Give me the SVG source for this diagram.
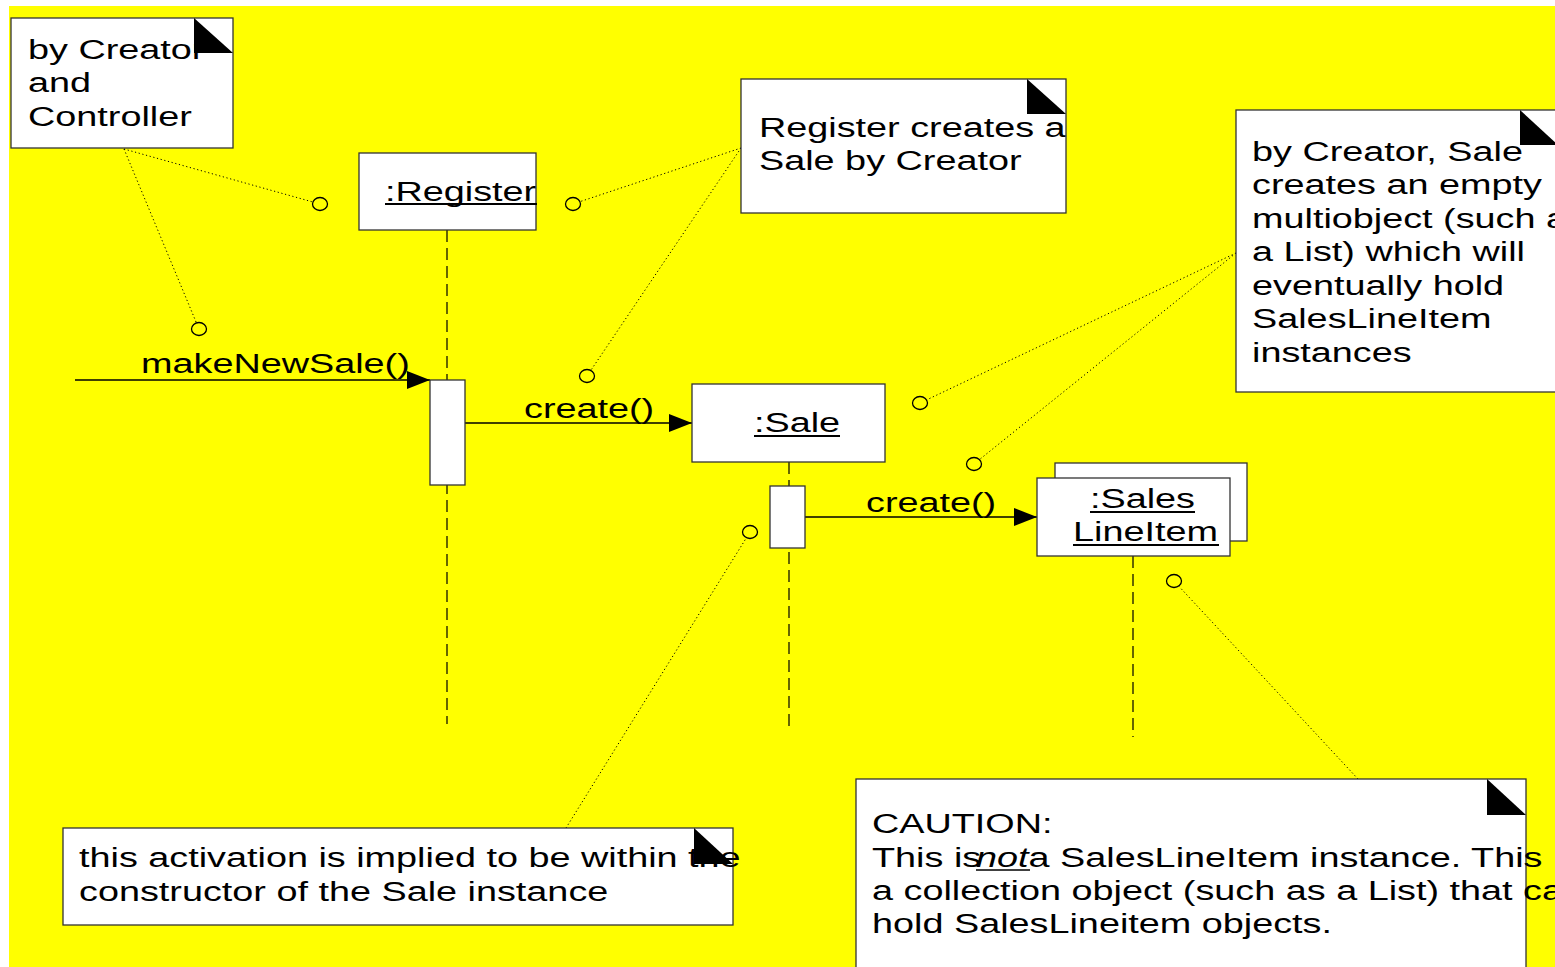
<svg xmlns="http://www.w3.org/2000/svg" width="1555" height="967" viewBox="0 0 1555 967">
  <style>
    .t { font-family: "Liberation Sans", Arial, Helvetica, sans-serif; font-size: 28px; fill: #000; }
    .box { fill: #fff; stroke: #333; stroke-width: 1.3; }
    .fold { fill: #000; stroke: none; }
    .life { stroke: #000; stroke-width: 1.2; stroke-dasharray: 12 6; fill: none; }
    .dot { stroke: #000; stroke-width: 1; stroke-dasharray: 1.2 2.6; fill: none; }
    .anchor { fill: none; stroke: #000; stroke-width: 1.3; }
    .msg { stroke: #000; stroke-width: 1.3; fill: none; marker-end: url(#arrow); }
    .ul { stroke: #000; stroke-width: 2; }
  </style>
  <defs>
    <marker id="arrow" markerUnits="userSpaceOnUse" markerWidth="24" markerHeight="20" refX="23" refY="9" orient="auto">
      <path d="M0,0 L23,9 L0,18 Z" fill="#000"/>
    </marker>
  </defs>

  <!-- page background -->
  <rect x="0" y="0" width="1555" height="967" fill="#fff"/>
  <rect x="9" y="6" width="1546" height="961" fill="#ffff00"/>

  <!-- lifelines -->
  <g id="lifelines">
    <line class="life" x1="447" y1="230" x2="447" y2="724"/>
    <line class="life" x1="789" y1="462" x2="789" y2="726"/>
    <line class="life" x1="1133" y1="556" x2="1133" y2="737"/>
  </g>

  <!-- note anchors and messages -->
  <g id="connectors">
    <line class="dot" x1="124" y1="149" x2="312.8" y2="202"/>
    <line class="dot" x1="124" y1="149" x2="196.1" y2="322.1"/>
    <line class="dot" x1="741" y1="148" x2="580.1" y2="201.6"/>
    <line class="dot" x1="741" y1="148" x2="591.2" y2="369.8"/>
    <line class="dot" x1="1236" y1="253" x2="926.8" y2="399.8"/>
    <line class="dot" x1="1236" y1="253" x2="979.8" y2="459.3"/>
    <line class="dot" x1="566" y1="828" x2="746" y2="538.4"/>
    <line class="dot" x1="1358" y1="779" x2="1179.1" y2="586.5"/>
    <ellipse class="anchor" cx="320" cy="204" rx="7.5" ry="6.5"/>
    <ellipse class="anchor" cx="573" cy="204" rx="7.5" ry="6.5"/>
    <ellipse class="anchor" cx="199" cy="329" rx="7.5" ry="6.5"/>
    <ellipse class="anchor" cx="587" cy="376" rx="7.5" ry="6.5"/>
    <ellipse class="anchor" cx="920" cy="403" rx="7.5" ry="6.5"/>
    <ellipse class="anchor" cx="974" cy="464" rx="7.5" ry="6.5"/>
    <ellipse class="anchor" cx="750" cy="532" rx="7.5" ry="6.5"/>
    <ellipse class="anchor" cx="1174" cy="581" rx="7.5" ry="6.5"/>

    <line class="msg" x1="75" y1="380" x2="430" y2="380"/>
    <text class="t" transform="translate(141,0) scale(1.35,1)" x="0" y="373">makeNewSale()</text>
    <line class="msg" x1="465" y1="423" x2="692" y2="423"/>
    <text class="t" transform="translate(524,0) scale(1.35,1)" x="0" y="418">create()</text>
    <line class="msg" x1="805" y1="517" x2="1037" y2="517"/>
    <text class="t" transform="translate(866,0) scale(1.35,1)" x="0" y="512">create()</text>
  </g>

  <!-- objects -->
  <g id="register">
    <rect class="box" x="359" y="153" width="177" height="77"/>
    <text class="t" transform="translate(385,0) scale(1.35,1)" x="0" y="201">:Register</text>
    <line class="ul" x1="385" y1="204" x2="537" y2="204"/>
  </g>
  <g id="register-activation">
    <rect class="box" x="430" y="380" width="35" height="105"/>
  </g>

  <g id="sale">
    <rect class="box" x="692" y="384" width="193" height="78"/>
    <text class="t" transform="translate(754,0) scale(1.35,1)" x="0" y="432">:Sale</text>
    <line class="ul" x1="754" y1="436" x2="840" y2="436"/>
  </g>
  <g id="sale-activation">
    <rect class="box" x="770" y="486" width="35" height="62"/>
  </g>

  <g id="saleslineitem">
    <rect class="box" x="1055" y="463" width="192" height="78"/>
    <rect class="box" x="1037" y="478" width="193" height="78"/>
    <text class="t" transform="translate(1090,0) scale(1.35,1)" x="0" y="508">:Sales</text>
    <line class="ul" x1="1090" y1="512" x2="1195" y2="512"/>
    <text class="t" transform="translate(1073,0) scale(1.35,1)" x="0" y="541">LineItem</text>
    <line class="ul" x1="1073" y1="545" x2="1219" y2="545"/>
  </g>

  <!-- notes -->
  <g id="note-controller">
    <rect class="box" x="11" y="18" width="222" height="130"/>
    <text class="t" transform="translate(28,0) scale(1.35,1)">
      <tspan x="0" y="59">by Creator</tspan>
      <tspan x="0" y="92">and</tspan>
      <tspan x="0" y="126">Controller</tspan>
    </text>
    <path class="fold" d="M194,18 L233,53 L194,53 Z"/>
  </g>

  <g id="note-register">
    <rect class="box" x="741" y="79" width="325" height="134"/>
    <text class="t" transform="translate(759,0) scale(1.35,1)">
      <tspan x="0" y="137">Register creates a</tspan>
      <tspan x="0" y="170">Sale by Creator</tspan>
    </text>
    <path class="fold" d="M1027,79 L1066,114 L1027,114 Z"/>
  </g>

  <g id="note-multiobject">
    <rect class="box" x="1236" y="110" width="330" height="282"/>
    <text class="t" transform="translate(1252,0) scale(1.35,1)">
      <tspan x="0" y="161">by Creator, Sale</tspan>
      <tspan x="0" y="194.5">creates an empty</tspan>
      <tspan x="0" y="228">multiobject (such as</tspan>
      <tspan x="0" y="261.5">a List) which will</tspan>
      <tspan x="0" y="295">eventually hold</tspan>
      <tspan x="0" y="328.5">SalesLineItem</tspan>
      <tspan x="0" y="362">instances</tspan>
    </text>
    <path class="fold" d="M1520,110 L1558,145 L1520,145 Z"/>
  </g>

  <g id="note-activation">
    <rect class="box" x="63" y="828" width="670" height="97"/>
    <text class="t" transform="translate(79,0) scale(1.35,1)">
      <tspan x="0" y="867">this activation is implied to be within the</tspan>
      <tspan x="0" y="901">constructor of the Sale instance</tspan>
    </text>
    <path class="fold" d="M694,828 L733,864 L694,864 Z"/>
  </g>

  <g id="note-caution">
    <rect class="box" x="856" y="779" width="670" height="220"/>
    <text class="t" transform="translate(872,0) scale(1.35,1)">
      <tspan x="0" y="833">CAUTION:</tspan>
      <tspan x="0" y="867">This is</tspan><tspan x="77" y="867" font-style="italic">not</tspan><tspan x="116" y="867">a SalesLineItem instance. This is</tspan>
      <tspan x="0" y="900">a collection object (such as a List) that can</tspan>
      <tspan x="0" y="933.5">hold SalesLineitem objects.</tspan>
    </text>
    <line x1="976" y1="870" x2="1030" y2="870" stroke="#000" stroke-width="1.5"/>
    <path class="fold" d="M1487,779 L1526,815 L1487,815 Z"/>
  </g>
</svg>
